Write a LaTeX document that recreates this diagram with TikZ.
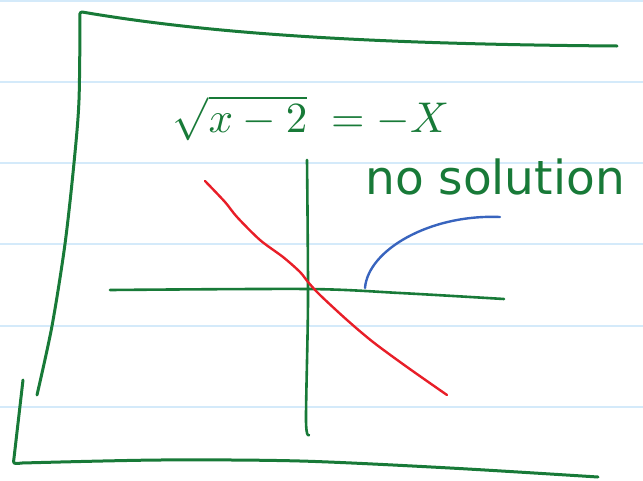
\documentclass[tikz,border=0pt]{standalone}
\usepackage{fontspec}
\setsansfont{DejaVu Sans}
\usepackage{xcolor}
\usetikzlibrary{calc,positioning}
\definecolor{inkgreen}{RGB}{24,122,56}
\definecolor{inkred}{RGB}{232,30,40}
\definecolor{inkblue}{RGB}{56,100,190}
\definecolor{ruleblue}{RGB}{212,234,250}
\tikzset{
  ink/.style={line width=3pt,line cap=round,line join=round,inkgreen},
  rule/.style={line width=1.4pt,ruleblue},
  graph/.style={line width=2.4pt,line cap=round,line join=round}
}

\begin{document}
\begin{tikzpicture}[x=1pt,y=-1pt]
\useasboundingbox (0,0) rectangle (643,480);
% ruled paper
\foreach \yy in {1,82,163,244,326,407}
  \draw[rule] (0,\yy)--(643,\yy);
% hand drawn frame
\draw[ink] (617,46) .. controls (350,44) and (200,32) .. (82,12)
  -- (80,13) plot[smooth] coordinates {(80,13) (79,100) (74,163) (65,244) (52,326) (37,395)};
\draw[ink] (23,380) -- (14,458) .. controls (13,464) .. (22,463)
  plot[smooth] coordinates {(22,463) (160,460) (300,461) (450,468) (598,477)};
% axes
\draw[ink,line width=2.6pt] plot[smooth] coordinates {(110,290) (308,289) (400,293) (504,299)};
\draw[ink,line width=2.6pt] plot[smooth] coordinates {(307,160) (308,300) (306,420) (309,435)};
% y = -x
\draw[graph,inkred] plot[smooth] coordinates {(205,181) (225,202) (237,217) (260,240) (283,257)
  (300,272) (308,282) (320,295) (347,320) (373,342) (407,367) (447,395)};
% y = sqrt(x-2)
\draw[graph,inkblue] (365,288) .. controls (368,250) and (430,214) .. (500,217);
% texts
\node[inkgreen,font=\fontsize{10}{12}\selectfont,scale=4.3] (eqn) at (311,118) {$\sqrt{x-2}\;=-X$};
\node[inkgreen,font=\sffamily\fontsize{47}{54}\selectfont,anchor=base west,inner sep=0pt] (nosol) at (365,194) {no solution};
\end{tikzpicture}
\end{document}
